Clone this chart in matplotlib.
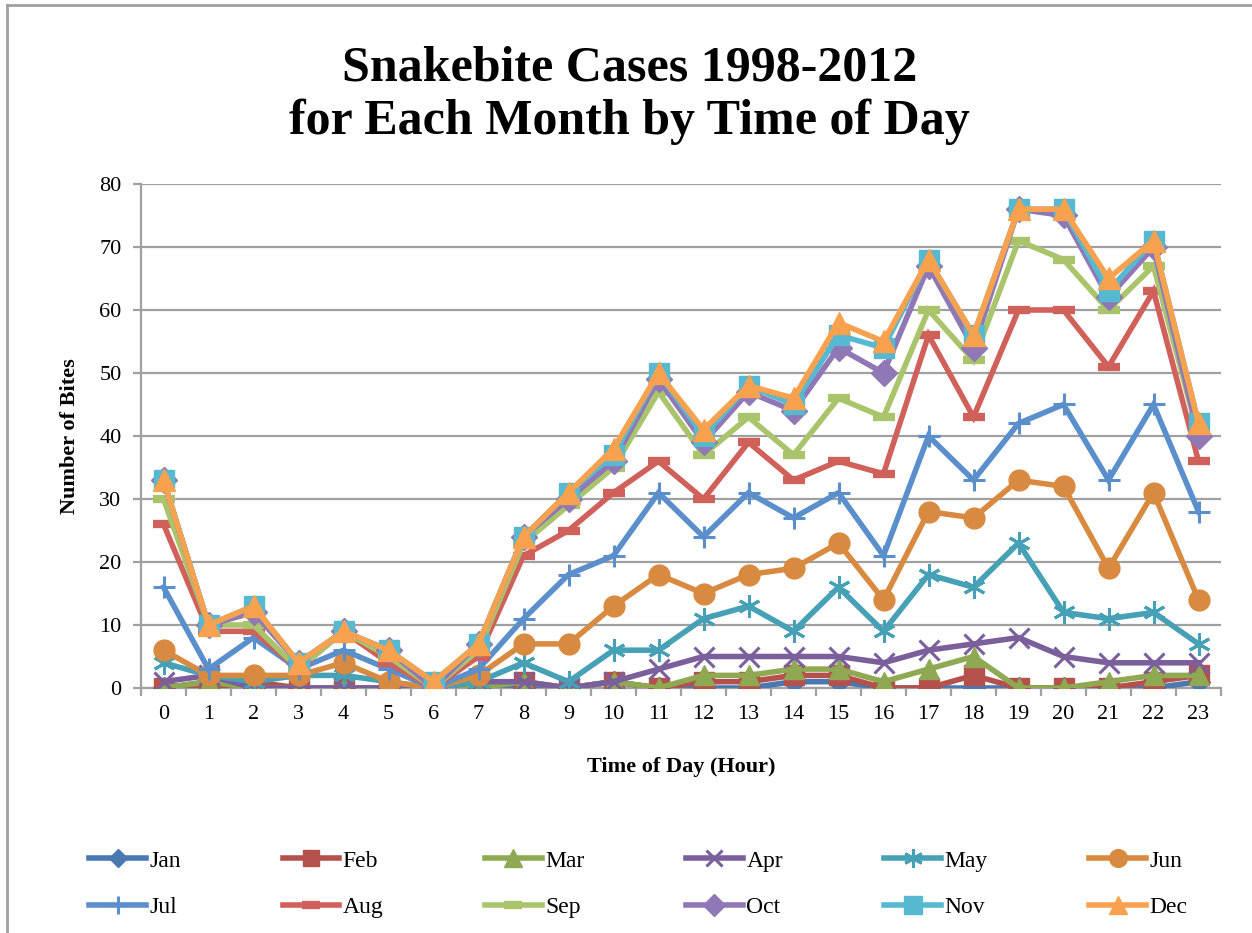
import numpy as np
import matplotlib.pyplot as plt
from matplotlib.lines import Line2D

# 資料 (每月累積的咬傷數, 依時間)
hours = list(range(24))
months = ["Jan", "Feb", "Mar", "Apr", "May", "Jun",
          "Jul", "Aug", "Sep", "Oct", "Nov", "Dec"]

jan = [0, 1, 0, 0, 0, 0, 0, 0, 0, 0, 1, 0, 0, 0, 1, 1, 0, 0, 0, 0, 0, 0, 0, 1]
feb = [0, 0, 1, 0, 0, 0, 0, 0, 1, 0, 1, 0, 1, 1, 2, 2, 0, 0, 2, 0, 0, 0, 1, 2]
mar = [0, 1, 0, 0, 0, 0, 0, 0, 1, 0, 1, 0, 2, 2, 3, 3, 1, 3, 5, 0, 0, 1, 2, 2]
apr = [1, 2, 0, 0, 0, 0, 0, 1, 1, 0, 1, 3, 5, 5, 5, 5, 4, 6, 7, 8, 5, 4, 4, 4]
may = [4, 2, 1, 2, 2, 1, 0, 1, 4, 1, 6, 6, 11, 13, 9, 16, 9, 18, 16, 23, 12, 11, 12, 7]
jun = [6, 2, 2, 2, 4, 1, 0, 2, 7, 7, 13, 18, 15, 18, 19, 23, 14, 28, 27, 33, 32, 19, 31, 14]
jul = [16, 3, 8, 3, 6, 3, 0, 3, 11, 18, 21, 31, 24, 31, 27, 31, 21, 40, 33, 42, 45, 33, 45, 28]
aug = [26, 9, 9, 3, 9, 4, 0, 5, 21, 25, 31, 36, 30, 39, 33, 36, 34, 56, 43, 60, 60, 51, 63, 36]
sep = [30, 10, 10, 3, 9, 5, 0, 6, 23, 29, 35, 47, 37, 43, 37, 46, 43, 60, 52, 71, 68, 60, 67, 40]
oct_ = [33, 10, 12, 4, 9, 6, 0, 7, 24, 30, 36, 49, 39, 47, 44, 54, 50, 67, 54, 76, 75, 62, 70, 40]
nov = [33, 10, 13, 4, 9, 6, 1, 7, 24, 31, 37, 50, 40, 48, 45, 56, 54, 68, 56, 76, 76, 63, 71, 42]
dec = [33, 10, 13, 4, 9, 6, 1, 7, 24, 31, 38, 50, 41, 48, 46, 58, 55, 68, 56, 76, 76, 65, 71, 42]

series = [jan, feb, mar, apr, may, jun, jul, aug, sep, oct_, nov, dec]

colors = ["#4A78B0", "#B5514C", "#8FA852", "#7B5F9D", "#46A0B6", "#D88B40",
          "#5B8FCB", "#D0605A", "#A9C46B", "#9078B6", "#57B8D1", "#F8A14E"]
# (marker, size, edge width)
styles = [("D", 11, 1), ("s", 14, 1), ("^", 15, 1), ("x", 14, 2.2),
          ((6, 2, 0), 16, 2.2), ("o", 15, 1), ("+", 16, 2.2), ("_", 16, 6),
          ("_", 16, 6), ("D", 13, 1), ("s", 15, 1), ("^", 16, 1)]

serif = "Liberation Serif"
grid_c = "#A0A0A0"

fig = plt.figure(figsize=(12.52, 9.33), dpi=100)
ax1 = fig.add_axes([141 / 1252, 1 - 688 / 933, (1221 - 141) / 1252, (688 - 184) / 933])

for i, vals in enumerate(series):
    m, ms, mew = styles[i]
    ax1.plot(hours, vals, color=colors[i], lw=4, marker=m, ms=ms, mew=mew,
             mec=colors[i], mfc=colors[i], label=months[i], zorder=3 + i,
             solid_joinstyle="miter")

ax1.set_xlim(-0.5, 23.5)
ax1.set_ylim(0, 80)
ax1.set_yticks(np.arange(0, 81, 10))
ax1.set_xticks(hours)
ax1.set_xticks(np.arange(-0.5, 24, 1), minor=True)
ax1.yaxis.grid(True, color=grid_c, lw=1.6)
ax1.set_axisbelow(True)
for s in ["top", "right"]:
    ax1.spines[s].set_visible(False)
for s in ["left", "bottom"]:
    ax1.spines[s].set_color(grid_c)
    ax1.spines[s].set_linewidth(1.6)
ax1.tick_params(axis="y", direction="out", length=6, width=1.6, color=grid_c,
                labelsize=16, pad=8)
ax1.tick_params(axis="x", which="major", length=0, labelsize=16, pad=12)
ax1.tick_params(axis="x", which="minor", direction="out", length=6, width=1.6,
                color=grid_c)
for lab in ax1.get_xticklabels() + ax1.get_yticklabels():
    lab.set_family(serif)

ax1.set_xlabel("Time of Day (Hour)", family=serif, fontweight="bold",
               fontsize=16, labelpad=24)
ax1.set_ylabel("Number of Bites", family=serif, fontweight="bold",
               fontsize=16, labelpad=14)

fig.text(0.503, 1 - 95 / 933, "Snakebite Cases 1998-2012\nfor Each Month by Time of Day",
         ha="center", va="center", family=serif, fontweight="bold",
         fontsize=36, linespacing=1.2)

# 圖例: 兩列六欄, 依列排序
handles, labels = ax1.get_legend_handles_labels()
order = []
for c in range(6):
    order += [c, c + 6]
leg = fig.legend([handles[k] for k in order], [labels[k] for k in order],
                 ncol=6, loc="center", bbox_to_anchor=(0.51, 1 - 884 / 933),
                 frameon=False, prop={"family": serif, "size": 17},
                 handlelength=2.4, handletextpad=0.15, columnspacing=4.3,
                 labelspacing=1.05, markerscale=0.85)

# 外框
fig.add_artist(Line2D([7 / 1252, 7 / 1252], [0, 1 - 5 / 933], color="#A0A0A0", lw=2))
fig.add_artist(Line2D([7 / 1252, 1], [1 - 5 / 933, 1 - 5 / 933], color="#A0A0A0", lw=2))

fig.savefig("out.png", dpi=100)
